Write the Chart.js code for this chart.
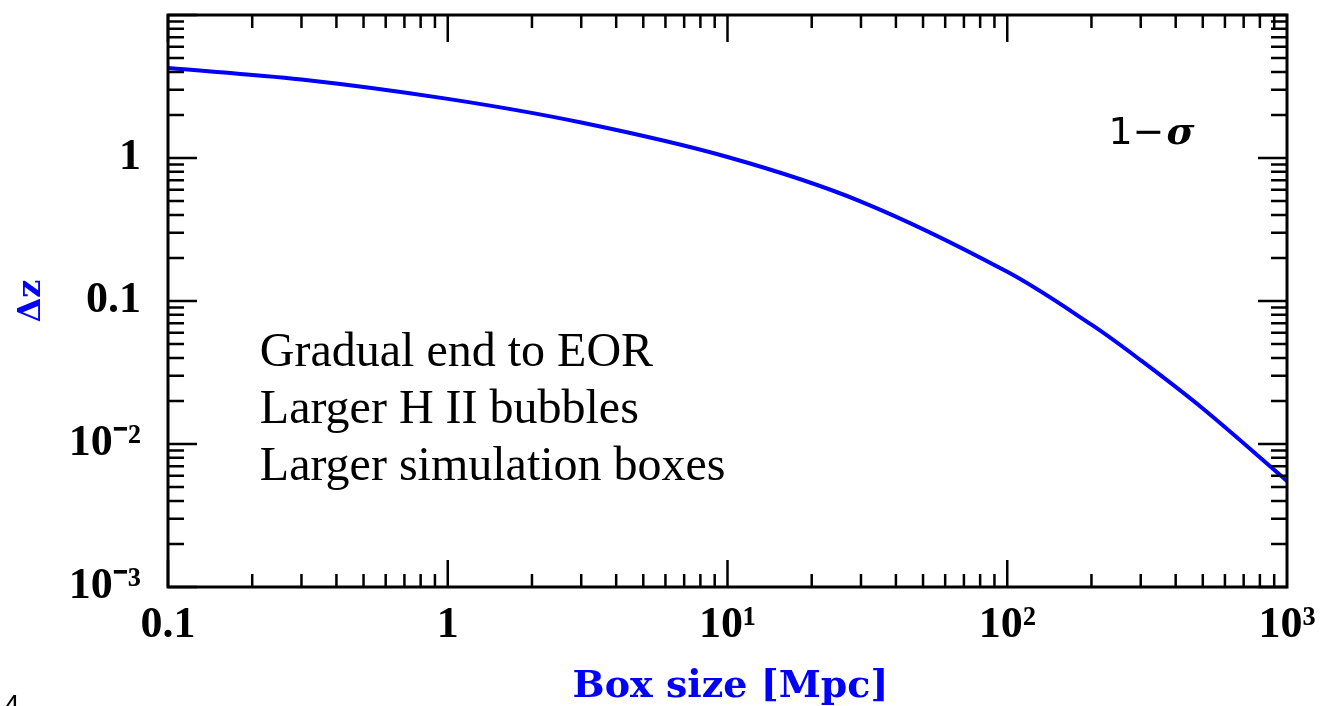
<!DOCTYPE html>
<html lang="en">
<head>
    <meta charset="UTF-8">
    <title>Delta z vs box size</title>
    <script src="https://cdn.jsdelivr.net/npm/chart.js"></script>
    <style>
        * {
            margin: 0;
            padding: 0;
            box-sizing: border-box;
        }

        body {
            background: #ffffff;
        }

        .wrap {
            position: relative;
            width: 1325px;
            height: 706px;
        }
    </style>
</head>
<body>
    <div class="wrap">
        <canvas id="dzChart"></canvas>
    </div>
    <script>
        // values
        const boxSize = [0.1, 0.3, 1, 3, 10, 30, 100, 200, 300, 500, 1000];
        const deltaZ = [4.26, 3.54, 2.59, 1.77, 1.016, 0.496, 0.160, 0.0683, 0.0385, 0.0177, 0.00551];

        const xTickVals = [0.1, 1, 10, 100, 1000];
        const xTickLabels = ['0.1', '1', '10¹', '10²', '10³'];
        const yTickVals = [0.001, 0.01, 0.1, 1];
        const yTickLabels = ['10⁻³', '10⁻²', '0.1', '1'];

        const noteLines = ['Gradual end to EOR', 'Larger H II bubbles', 'Larger simulation boxes'];

        const tickFont = { family: "'Liberation Serif', serif", size: 44, weight: 'bold' };

        // frame, inward ticks on all sides, titles and notes
        const framePlugin = {
            id: 'frame',
            afterDraw(chart) {
                const ctx = chart.ctx;
                const area = chart.chartArea;
                const xs = chart.scales.x;
                const ys = chart.scales.y;

                ctx.save();
                ctx.strokeStyle = '#000';
                ctx.lineWidth = 2.5;
                ctx.beginPath();
                for (let e = -1; e <= 2; e++) {
                    for (let m = 1; m <= 9; m++) {
                        const v = m * Math.pow(10, e);
                        if (v < xs.min || v > xs.max) continue;
                        const px = xs.getPixelForValue(v);
                        const len = m === 1 ? 27 : 13;
                        ctx.moveTo(px, area.bottom);
                        ctx.lineTo(px, area.bottom - len);
                        ctx.moveTo(px, area.top);
                        ctx.lineTo(px, area.top + len);
                    }
                }
                for (let e = -3; e <= 1; e++) {
                    for (let m = 1; m <= 9; m++) {
                        const v = m * Math.pow(10, e);
                        if (v < ys.min || v > ys.max) continue;
                        const py = ys.getPixelForValue(v);
                        const len = m === 1 ? 29 : 16;
                        ctx.moveTo(area.left, py);
                        ctx.lineTo(area.left + len, py);
                        ctx.moveTo(area.right, py);
                        ctx.lineTo(area.right - len, py);
                    }
                }
                ctx.stroke();

                ctx.lineWidth = 3;
                ctx.strokeRect(area.left, area.top, area.right - area.left, area.bottom - area.top);

                // notes inside the plot
                ctx.fillStyle = '#000';
                ctx.textAlign = 'left';
                ctx.textBaseline = 'alphabetic';
                ctx.font = "48px 'Liberation Serif', serif";
                const nx = xs.getPixelForValue(0.213);
                const ny = ys.getPixelForValue(0.0351);
                noteLines.forEach((t, i) => ctx.fillText(t, nx, ny + i * 57));

                // 1-sigma tag
                ctx.textBaseline = 'middle';
                const sx = xs.getPixelForValue(230);
                const sy = ys.getPixelForValue(1.47);
                ctx.font = "38px 'DejaVu Sans', sans-serif";
                ctx.fillText('1−', sx, sy);
                const w = ctx.measureText('1−').width;
                ctx.font = "italic bold 38px 'DejaVu Serif', serif";
                ctx.fillText('σ', sx + w + 2, sy);

                // axis titles
                ctx.fillStyle = '#0000ff';
                ctx.font = "bold 38px 'DejaVu Serif', serif";
                ctx.textAlign = 'center';
                ctx.textBaseline = 'alphabetic';
                ctx.fillText('Box size [Mpc]', (area.left + area.right) / 2 + 3, 697);

                ctx.translate(32, ys.getPixelForValue(0.1));
                ctx.rotate(-Math.PI / 2);
                ctx.font = "bold 32px 'DejaVu Serif', serif";
                ctx.textBaseline = 'middle';
                ctx.fillText('Δz', 0, 0);
                ctx.restore();

                // slide number cut at the bottom edge
                ctx.save();
                ctx.fillStyle = '#000';
                ctx.font = "28px 'Liberation Sans', sans-serif";
                ctx.textAlign = 'left';
                ctx.fillText('4', 4, 714);
                ctx.restore();
            }
        };

        const ctx = document.getElementById('dzChart').getContext('2d');
        new Chart(ctx, {
            type: 'line',
            data: {
                datasets: [{
                    data: boxSize.map((b, i) => ({ x: b, y: deltaZ[i] })),
                    borderColor: '#0000ff',
                    borderWidth: 4,
                    pointRadius: 0,
                    tension: 0.35,
                    fill: false
                }]
            },
            options: {
                responsive: true,
                maintainAspectRatio: false,
                animation: false,
                layout: { padding: { top: 15, right: 38, left: 0, bottom: 0 } },
                plugins: {
                    legend: { display: false },
                    tooltip: { enabled: false }
                },
                scales: {
                    x: {
                        type: 'logarithmic',
                        min: 0.1,
                        max: 1000,
                        grid: { display: false, drawTicks: false },
                        border: { display: false },
                        afterBuildTicks: (scale) => {
                            scale.ticks = xTickVals.map(v => ({ value: v }));
                        },
                        afterFit: (scale) => {
                            scale.height = 119;
                            scale.paddingLeft = 0;
                            scale.paddingRight = 0;
                        },
                        ticks: {
                            color: '#000',
                            font: tickFont,
                            padding: 12,
                            maxRotation: 0,
                            autoSkip: false,
                            callback: (v, i) => xTickLabels[i]
                        }
                    },
                    y: {
                        type: 'logarithmic',
                        min: 0.001,
                        max: 10,
                        grid: { display: false, drawTicks: false },
                        border: { display: false },
                        afterBuildTicks: (scale) => {
                            scale.ticks = yTickVals.map(v => ({ value: v }));
                        },
                        afterFit: (scale) => {
                            scale.width = 168;
                            scale.paddingTop = 0;
                            scale.paddingBottom = 0;
                        },
                        ticks: {
                            color: '#000',
                            font: tickFont,
                            padding: 27,
                            autoSkip: false,
                            callback: (v, i) => yTickLabels[i]
                        }
                    }
                }
            },
            plugins: [framePlugin]
        });
    </script>
</body>
</html>
